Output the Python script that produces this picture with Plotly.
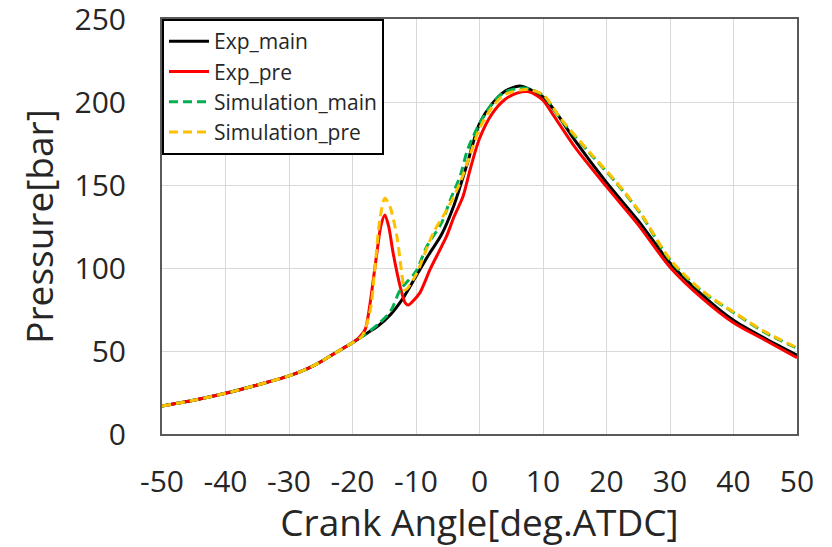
import plotly.graph_objects as go

# ---- data ----
exp_main_x = [-50, -45, -40, -35, -30, -27, -25, -22, -20, -18, -16, -14, -12, -10, -8, -6, -4, -2, 0, 2, 4, 6.3, 8, 10, 12, 15, 20, 25, 30, 35, 40, 45, 50]
exp_main_y = [16.9, 20.3, 24.5, 29.5, 35, 39.5, 43.5, 50.5, 55, 60, 65, 72, 82, 95, 108, 120, 138, 162, 187, 199, 206.5, 209.6, 207.5, 203, 194, 177, 151.5, 128.5, 103, 84, 68.5, 57.5, 47.5]

exp_pre_x = [-50, -45, -40, -35, -30, -27, -25, -22, -20, -19, -18, -17.5, -17, -16.2, -15.5, -14.9, -14.3, -13.6, -12.5, -11.7, -11.2, -10.5, -9.4, -7.8, -6.5, -5.2, -4, -2.6, -1.5, 0, 2, 4, 6, 7.6, 9, 10, 12, 15, 20, 25, 30, 35, 40, 45, 50]
exp_pre_y = [16.9, 20.3, 24.5, 29.5, 35, 39.5, 43.5, 50.5, 55, 58, 63, 72, 85, 108, 126, 132, 125, 109, 89, 79, 77.7, 80, 85, 99, 109, 119, 131, 143, 159, 178, 193, 201.5, 205.5, 206.3, 204, 201, 190, 173, 149, 126, 100.5, 82, 67, 56.5, 46]

sim_main_x = [-50, -45, -40, -35, -30, -27, -25, -22, -20, -18, -16, -14, -12.5, -10, -8.3, -6, -4.6, -3, -1.9, 0, 2, 4, 7.1, 10, 12.7, 17.4, 21.6, 25.3, 30, 35, 40.2, 45, 50]
sim_main_y = [16.9, 20.3, 24.5, 29.5, 35, 39.5, 43.5, 50.5, 55, 60, 66, 74, 86.7, 98, 113, 127, 141, 156, 171, 187, 199, 206, 208.4, 204, 190, 169, 151, 133, 104.8, 86, 72.7, 61, 51.6]

sim_pre_x = [-50, -45, -40, -35, -30, -27, -25, -22, -20, -18.5, -17.2, -16.5, -15.7, -14.9, -14.1, -13, -12.3, -11.7, -10, -7.3, -5, -3.1, -1.5, 0, 2, 4, 7.5, 10, 12.7, 17.4, 21.6, 25.3, 30, 35, 40.2, 45, 50]
sim_pre_y = [16.9, 20.3, 24.5, 29.5, 35, 39.5, 43.5, 50.5, 55, 59, 74.7, 98.8, 129, 142, 137, 118.8, 98.8, 86.7, 96, 121, 136, 151, 168, 184, 197, 204.5, 207.5, 204.5, 190.5, 169.5, 151.5, 133.5, 105.3, 86.5, 73, 61.5, 52]

x_ticks = [-50, -40, -30, -20, -10, 0, 10, 20, 30, 40, 50]
y_ticks = [0, 50, 100, 150, 200, 250]

FONT = "Open Sans"
TXT = "#262626"

fig = go.Figure()
fig.add_trace(go.Scatter(x=exp_main_x, y=exp_main_y, mode="lines", name="Exp_main",
                         line=dict(color="#000000", width=3, shape="spline", smoothing=0.8)))
fig.add_trace(go.Scatter(x=exp_pre_x, y=exp_pre_y, mode="lines", name="Exp_pre",
                         line=dict(color="#ff0000", width=3, shape="spline", smoothing=0.8)))
fig.add_trace(go.Scatter(x=sim_main_x, y=sim_main_y, mode="lines", name="Simulation_main",
                         line=dict(color="#00b050", width=3, dash="9px,5px", shape="spline", smoothing=0.8)))
fig.add_trace(go.Scatter(x=sim_pre_x, y=sim_pre_y, mode="lines", name="Simulation_pre",
                         line=dict(color="#ffc000", width=3, dash="9px,5px", shape="spline", smoothing=0.8)))

fig.update_layout(
    width=832, height=547,
    margin=dict(l=162, r=35, t=19, b=113, autoexpand=False),
    paper_bgcolor="white", plot_bgcolor="white",
    font=dict(family=FONT, color=TXT),
    showlegend=True,
    legend=dict(x=0, y=1, xanchor="left", yanchor="top",
                bgcolor="white", bordercolor="#000000", borderwidth=2,
                font=dict(family=FONT, size=21, color=TXT),
                tracegroupgap=0, itemwidth=40),
)
fig.update_xaxes(range=[-50, 50], tickvals=x_ticks, ticktext=[str(v) for v in x_ticks],
                 showgrid=True, gridcolor="#d9d9d9", gridwidth=1, zeroline=False,
                 showline=True, mirror=True, linecolor="#595959", linewidth=2,
                 ticks="", ticklabelstandoff=20, automargin=False, ticklabeloverflow="allow",
                 tickfont=dict(size=30, family=FONT, color=TXT),
                 title=dict(text="Crank Angle[deg.ATDC]", font=dict(size=37, family=FONT, color=TXT), standoff=8))
fig.update_yaxes(range=[0, 250], tickvals=y_ticks, ticktext=[str(v) for v in y_ticks],
                 showgrid=True, gridcolor="#d9d9d9", gridwidth=1, zeroline=False,
                 showline=True, mirror=True, linecolor="#595959", linewidth=2,
                 ticks="", ticklabelstandoff=28, automargin=False, ticklabeloverflow="allow",
                 tickfont=dict(size=30, family=FONT, color=TXT),
                 title=dict(text="Pressure[bar]", font=dict(size=37, family=FONT, color=TXT), standoff=10))

fig.write_html("out.html", config={"displayModeBar": False},
               post_script="document.body.style.margin='0';document.body.style.overflow='hidden';")
